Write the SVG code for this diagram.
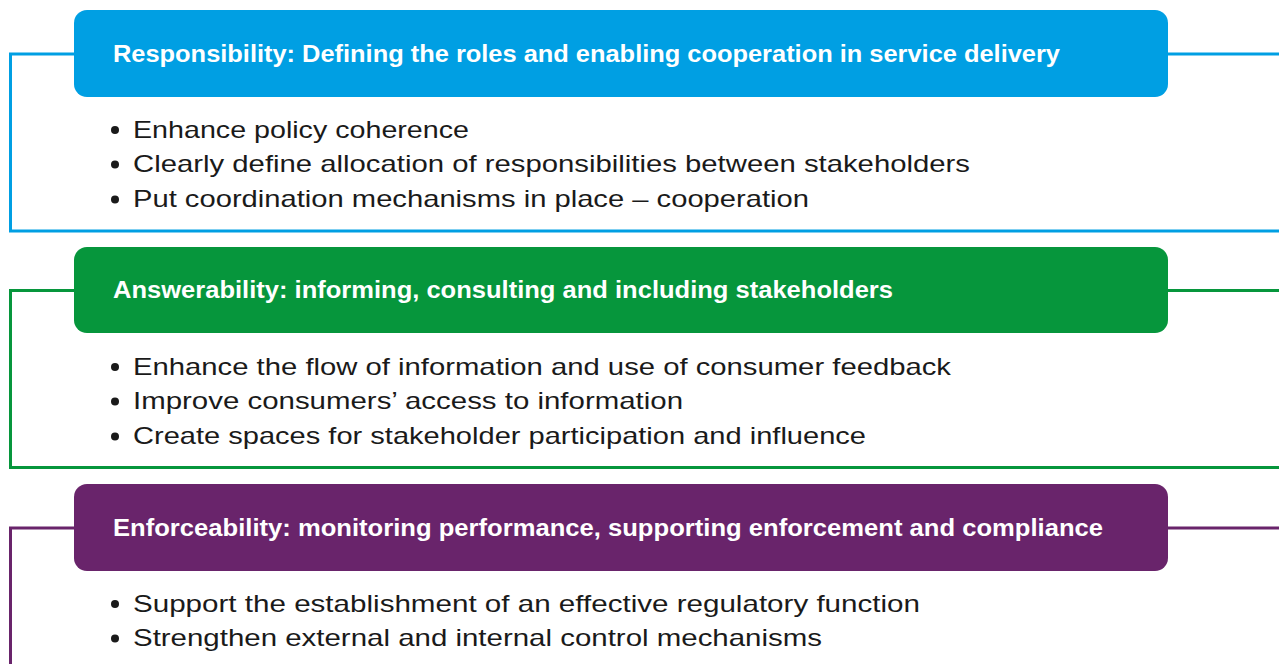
<svg xmlns="http://www.w3.org/2000/svg" width="1279" height="664" viewBox="0 0 1279 664">
  <style>
    .hdr { font-family: "Liberation Sans", Arial, sans-serif; font-weight: bold; font-size: 23.5px; fill: #ffffff; }
    .item { font-family: "Liberation Sans", Arial, sans-serif; font-size: 24px; fill: #1a1a1a; }
    .dot { fill: #1a1a1a; }
    .frame { fill: none; stroke-width: 3; }
    .blue { stroke: #009fe3; }
    .green { stroke: #06963c; }
    .purple { stroke: #69246b; }
  </style>

  <!-- frame lines linking each heading to its bracket -->
  <g id="connectors">
    <path class="frame blue" d="M 74 54 H 10.5 V 231 H 1279 M 1168 54 H 1279"/>
    <path class="frame green" d="M 74 290.5 H 10.5 V 467.5 H 1279 M 1168 290.5 H 1279"/>
    <path class="frame purple" d="M 74 528 H 10.5 V 664 M 1168 528 H 1279"/>
  </g>

  <g id="responsibility">
    <rect x="74" y="10" width="1094" height="87" rx="13" fill="#009fe3"/>
    <text class="hdr" x="113" y="61.5" textLength="947" lengthAdjust="spacingAndGlyphs">Responsibility: Defining the roles and enabling cooperation in service delivery</text>
    <circle class="dot" cx="115" cy="130" r="4"/>
    <text class="item" x="133" y="137.5" textLength="336" lengthAdjust="spacingAndGlyphs">Enhance policy coherence</text>
    <circle class="dot" cx="115" cy="164.5" r="4"/>
    <text class="item" x="133" y="172" textLength="837" lengthAdjust="spacingAndGlyphs">Clearly define allocation of responsibilities between stakeholders</text>
    <circle class="dot" cx="115" cy="199.5" r="4"/>
    <text class="item" x="133" y="207" textLength="676" lengthAdjust="spacingAndGlyphs">Put coordination mechanisms in place – cooperation</text>
  </g>

  <g id="answerability">
    <rect x="74" y="247" width="1094" height="86" rx="13" fill="#06963c"/>
    <text class="hdr" x="113" y="298" textLength="780" lengthAdjust="spacingAndGlyphs">Answerability: informing, consulting and including stakeholders</text>
    <circle class="dot" cx="115" cy="367" r="4"/>
    <text class="item" x="133" y="374.5" textLength="818" lengthAdjust="spacingAndGlyphs">Enhance the flow of information and use of consumer feedback</text>
    <circle class="dot" cx="115" cy="401.5" r="4"/>
    <text class="item" x="133" y="409" textLength="550" lengthAdjust="spacingAndGlyphs">Improve consumers’ access to information</text>
    <circle class="dot" cx="115" cy="436.5" r="4"/>
    <text class="item" x="133" y="444" textLength="733" lengthAdjust="spacingAndGlyphs">Create spaces for stakeholder participation and influence</text>
  </g>

  <g id="enforceability">
    <rect x="74" y="484" width="1094" height="87" rx="13" fill="#69246b"/>
    <text class="hdr" x="113" y="536" textLength="990" lengthAdjust="spacingAndGlyphs">Enforceability: monitoring performance, supporting enforcement and compliance</text>
    <circle class="dot" cx="115" cy="604" r="4"/>
    <text class="item" x="133" y="611.5" textLength="787" lengthAdjust="spacingAndGlyphs">Support the establishment of an effective regulatory function</text>
    <circle class="dot" cx="115" cy="638.5" r="4"/>
    <text class="item" x="133" y="646" textLength="689" lengthAdjust="spacingAndGlyphs">Strengthen external and internal control mechanisms</text>
  </g>
</svg>
